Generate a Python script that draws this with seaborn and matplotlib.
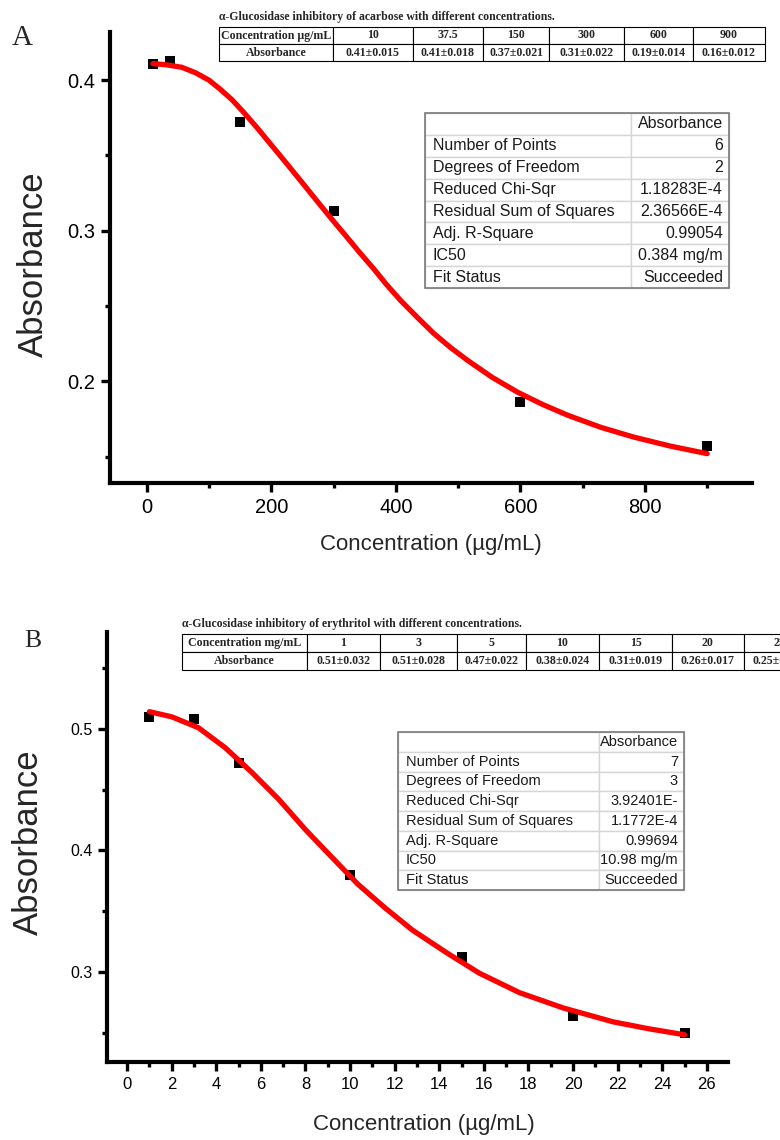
import numpy as np
import pandas as pd
import matplotlib
matplotlib.use("Agg")
import matplotlib.pyplot as plt
import seaborn as sns
from matplotlib.ticker import MultipleLocator, FormatStrFormatter
from matplotlib.patches import Rectangle

# ---------------- data: panel A (acarbose) ----------------
conc_A = [10, 37.5, 150, 300, 600, 900]
abs_A = [0.411, 0.413, 0.372, 0.313, 0.186, 0.157]
fit_x_A = [10, 30, 56, 78, 100, 118, 137, 156, 176, 200, 224, 248, 272, 296, 321, 342, 363,
           385, 408, 435, 461, 488, 515, 555, 596, 636, 676, 729, 782, 841, 900]
fit_y_A = [0.411, 0.4103, 0.4086, 0.405, 0.400, 0.394, 0.387, 0.3785, 0.369, 0.357, 0.345,
           0.3328, 0.3205, 0.3083, 0.296, 0.2855, 0.2755, 0.2643, 0.2536, 0.2423, 0.2318,
           0.2224, 0.214, 0.2026, 0.1927, 0.1846, 0.1775, 0.1695, 0.163, 0.157, 0.152]

tabA_conc = ["10", "37.5", "150", "300", "600", "900"]
tabA_mean = ["0.41", "0.41", "0.37", "0.31", "0.19", "0.16"]
tabA_sd = ["0.015", "0.018", "0.021", "0.022", "0.014", "0.012"]
statA = ["6", "2", "1.18283E-4", "2.36566E-4", "0.99054", "0.384 mg/m", "Succeeded"]

# ---------------- data: panel B (erythritol) ----------------
conc_B = [1, 3, 5, 10, 15, 20, 25]
abs_B = [0.5098, 0.508, 0.472, 0.3795, 0.3123, 0.264, 0.250]
fit_x_B = [1, 2, 3.2, 4.4, 5.6, 6.8, 8.0, 9.15, 10.36, 11.55, 12.8, 14.35, 15.8, 17.6,
           19.55, 21.8, 23.4, 25]
fit_y_B = [0.514, 0.5098, 0.5008, 0.4844, 0.464, 0.442, 0.417, 0.395, 0.372, 0.353, 0.3344,
           0.3156, 0.299, 0.283, 0.2705, 0.259, 0.2533, 0.2484]

tabB_conc = ["1", "3", "5", "10", "15", "20", "25"]
tabB_mean = ["0.51", "0.51", "0.47", "0.38", "0.31", "0.26", "0.25"]
tabB_sd = ["0.032", "0.028", "0.022", "0.024", "0.019", "0.017", "0.012"]
statB = ["7", "3", "3.92401E-", "1.1772E-4", "0.99694", "10.98 mg/m", "Succeeded"]

stat_names = ["Number of Points", "Degrees of Freedom", "Reduced Chi-Sqr",
              "Residual Sum of Squares", "Adj. R-Square", "IC50", "Fit Status"]

title_A = "\u03b1-Glucosidase inhibitory of acarbose with different concentrations."
title_B = "\u03b1-Glucosidase inhibitory of erythritol with different concentrations."

# ---------------- style ----------------
sns.set_theme(style="ticks")
plt.rcParams["font.family"] = ["Liberation Sans", "DejaVu Sans"]

W, H = 780, 1140
fig = plt.figure(figsize=(W / 100, H / 100), dpi=100)
fig.patch.set_facecolor("white")


def px_rect(x0, y0, x1, y1):
    return [x0 / W, 1 - y1 / H, (x1 - x0) / W, (y1 - y0) / H]


def style_axes(ax, tick_fs):
    for s in ["top", "right"]:
        ax.spines[s].set_visible(False)
    for s in ["left", "bottom"]:
        ax.spines[s].set_linewidth(3.0)
        ax.spines[s].set_color("black")
    ax.tick_params(which="major", direction="out", length=6.5, width=2.4,
                   labelsize=tick_fs, color="black", labelcolor="black", pad=4)
    ax.tick_params(which="minor", direction="out", length=3.5, width=2.4, color="black")
    ax.set_facecolor("white")
    ax.grid(False)


# ---------------- panel A ----------------
axA = fig.add_axes(px_rect(110, 32, 752, 483))
sns.scatterplot(x=conc_A, y=abs_A, marker="s", s=48, color="black", linewidth=0,
                ax=axA, zorder=3)
sns.lineplot(x=fit_x_A, y=fit_y_A, color="#ff0000", linewidth=3.8, sort=False,
             ax=axA, zorder=4, solid_joinstyle="round")
axA.set_xlim(-59, 972)
axA.set_ylim(0.1325, 0.432)
axA.xaxis.set_major_locator(MultipleLocator(200))
axA.xaxis.set_minor_locator(MultipleLocator(100))
axA.yaxis.set_major_locator(MultipleLocator(0.1))
axA.yaxis.set_minor_locator(MultipleLocator(0.05))
axA.yaxis.set_major_formatter(FormatStrFormatter("%.1f"))
axA.xaxis.set_major_formatter(FormatStrFormatter("%d"))
style_axes(axA, 14.5)
axA.set_ylabel("Absorbance", fontsize=25)
axA.set_xlabel("Concentration (\u00b5g/mL)", fontsize=16)
axA.yaxis.set_label_coords(-0.094, 0.485)
axA.xaxis.set_label_coords(0.5, -0.113)

# ---------------- panel B ----------------
axB = fig.add_axes(px_rect(107, 632, 728, 1062))
sns.scatterplot(x=conc_B, y=abs_B, marker="s", s=48, color="black", linewidth=0,
                ax=axB, zorder=3)
sns.lineplot(x=fit_x_B, y=fit_y_B, color="#ff0000", linewidth=3.8, sort=False,
             ax=axB, zorder=4, solid_joinstyle="round")
axB.set_xlim(-0.9, 26.95)
axB.set_ylim(0.226, 0.5795)
axB.xaxis.set_major_locator(MultipleLocator(2))
axB.xaxis.set_minor_locator(MultipleLocator(1))
axB.yaxis.set_major_locator(MultipleLocator(0.1))
axB.yaxis.set_minor_locator(MultipleLocator(0.05))
axB.yaxis.set_major_formatter(FormatStrFormatter("%.1f"))
axB.xaxis.set_major_formatter(FormatStrFormatter("%d"))
style_axes(axB, 12)
axB.tick_params(axis="y", which="major", labelsize=11.5)
axB.set_ylabel("Absorbance", fontsize=25)
axB.set_xlabel("Concentration (\u00b5g/mL)", fontsize=16)
axB.yaxis.set_label_coords(-0.1, 0.512)
axB.xaxis.set_label_coords(0.511, -0.121)

# ---------------- overlay for tables / panel letters ----------------
ov = fig.add_axes([0, 0, 1, 1])
ov.set_xlim(0, W)
ov.set_ylim(H, 0)
ov.axis("off")

ov.text(22, 38, "A", fontsize=21, family=["Liberation Serif"], ha="center", va="center")
ov.text(33, 641, "B", fontsize=18.5, family=["Liberation Serif"], ha="center", va="center")


def data_table(header, conc, means, sds, x0, widths, y0, y1, title, title_y):
    row1 = [header] + conc
    row2 = ["Absorbance"] + [f"{m}\u00b1{s}" for m, s in zip(means, sds)]
    x1 = x0 + sum(widths)
    t = ov.table(cellText=[row1, row2], bbox=[x0 / W, 1 - y1 / H, (x1 - x0) / W, (y1 - y0) / H],
                 colWidths=widths, cellLoc="center")
    t.auto_set_font_size(False)
    t.set_fontsize(8.6)
    for (r, c), cell in t.get_celld().items():
        cell.set_edgecolor("black")
        cell.set_linewidth(0.8)
        cell.get_text().set_fontfamily(["Liberation Serif"])
        cell.get_text().set_fontweight("bold")
    ov.text(x0, title_y, title, fontsize=8.5, fontweight="bold", family=["Liberation Serif"],
            ha="left", va="center")


data_table("Concentration \u00b5g/mL", tabA_conc, tabA_mean, tabA_sd,
           219, [114, 79.5, 70.5, 66, 75, 68.5, 72.5], 27, 61, title_A, 17)
data_table("Concentration mg/mL", tabB_conc, tabB_mean, tabB_sd,
           182, [125, 73, 77, 69, 73, 73, 71.5, 72], 634, 670, title_B, 624)


def stat_table(values, x0, y0, x1, y1, xdiv, fs):
    rows = [["", "Absorbance"]] + [[nm, v] for nm, v in zip(stat_names, values)]
    t = ov.table(cellText=rows, bbox=[x0 / W, 1 - y1 / H, (x1 - x0) / W, (y1 - y0) / H],
                 colWidths=[xdiv - x0, x1 - xdiv], cellLoc="left")
    t.auto_set_font_size(False)
    t.set_fontsize(fs)
    for (r, c), cell in t.get_celld().items():
        cell.set_edgecolor("#d6d6d6")
        cell.set_linewidth(1.0)
        cell.set_facecolor("white")
        txt = cell.get_text()
        txt.set_color("#1a1a1a")
        txt.set_fontfamily(["Liberation Sans"])
        if c == 1:
            txt.set_horizontalalignment("right")
            cell.PAD = 6.0 / (x1 - xdiv)
        else:
            txt.set_horizontalalignment("left")
            cell.PAD = 8.0 / (xdiv - x0)
    ov.add_patch(Rectangle((x0, y0), x1 - x0, y1 - y0, fill=False, edgecolor="#7a7a7a",
                           linewidth=1.2, zorder=5))


stat_table(statA, 425, 113, 729, 288, 631, 11.5)
stat_table(statB, 398, 732, 684, 890, 599, 10.5)

fig.savefig("out.png", dpi=100, facecolor="white")
